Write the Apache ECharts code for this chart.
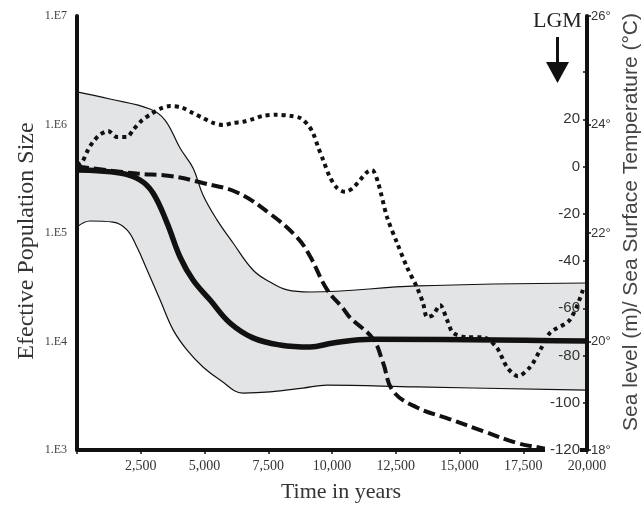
<!DOCTYPE html>
<html>
<head>
<meta charset="utf-8">
<script src="https://cdn.jsdelivr.net/npm/echarts@6/dist/echarts.min.js"></script>
<style>
  html, body { margin: 0; padding: 0; background: #fff; }
  #main { width: 644px; height: 509px; }
</style>
</head>
<body>
<div id="main"></div>
<script>
// Ne (log scale), [years, Ne]
var medianNe = [
  [0, 381000], [1690, 357000], [2470, 308000], [2980, 234000], [3530, 124000],
  [4040, 60100], [4550, 36900], [5220, 24100], [6000, 14800], [6900, 10800],
  [7960, 9290], [9140, 8890], [10040, 9680], [11570, 10500], [20000, 10100]
];
var upperNe = [
  [0, 2000000], [1290, 1718000], [2860, 1390000], [3450, 1099000], [4040, 607000],
  [4550, 397000], [4940, 224000], [5490, 132000], [6120, 80900], [6900, 45600],
  [7570, 35300], [8240, 29900], [9140, 28600], [13330, 32500], [20000, 34600]
];
var lowerNe = [
  [0, 113500], [510, 129000], [1410, 126000], [1960, 107000], [2350, 74300],
  [2750, 45600], [3260, 24100], [3770, 12800], [4310, 8360], [4940, 5820],
  [5610, 4420], [6510, 3350], [7570, 3430], [8860, 3720], [9800, 3970],
  [13330, 3810], [20000, 3570]
];
// sea level (m)
var seaLevel = [
  [0, 0], [2350, -3], [3650, -4], [4940, -7], [6280, -11], [7570, -20],
  [8630, -30], [9140, -38], [9800, -52], [10430, -60], [10710, -64], [11610, -73],
  [12000, -83], [12390, -95], [13330, -102], [14630, -107], [15920, -112],
  [17250, -117], [18160, -119], [18750, -120]
];
// sea surface temperature (°C)
var seaTemp = [
  [0, 23.25], [200, 23.31], [430, 23.53], [630, 23.68], [900, 23.81], [1220, 23.88],
  [1570, 23.77], [1960, 23.77], [2200, 23.9], [2550, 24.08], [2860, 24.18],
  [3260, 24.29], [3650, 24.34], [4120, 24.31], [4550, 24.21], [4940, 24.12],
  [5330, 24.03], [5730, 23.99], [6120, 24.03], [6510, 24.05], [6900, 24.1],
  [7290, 24.16], [7840, 24.18], [8350, 24.16], [8750, 24.12], [9060, 23.99],
  [9260, 23.84], [9450, 23.59], [9650, 23.35], [9920, 23.03], [10200, 22.83],
  [10510, 22.76], [10820, 22.83], [11370, 23.12], [11570, 23.16], [11800, 22.94],
  [12160, 22.29], [12550, 21.82], [12940, 21.37], [13330, 21.0], [13570, 20.71],
  [13730, 20.45], [13960, 20.49], [14240, 20.67], [14510, 20.4], [14750, 20.16],
  [15290, 20.08], [15920, 20.08], [16470, 19.88], [16860, 19.53], [17290, 19.36],
  [17770, 19.53], [18160, 19.84], [18550, 20.16], [19330, 20.4], [19840, 20.95]
];

var serif = 'Liberation Serif';
var sans = 'Liberation Sans';
var ink = '#111';

var myChart = echarts.init(document.getElementById('main'));

var option = {
  animation: false,
  backgroundColor: '#fff',
  grid: [
    { left: 77, right: 57, top: 16, bottom: 59, outerBoundsMode: 'none' },
    { left: 77, right: 57, top: 72, bottom: 59, outerBoundsMode: 'none' }
  ],
  xAxis: [
    {
      gridIndex: 0, type: 'value', min: 0, max: 20000, interval: 2500, z: 10,
      axisLine: { onZero: false, lineStyle: { color: ink, width: 4 } },
      axisTick: { length: 4, lineStyle: { color: ink, width: 1.5 } },
      splitLine: { show: false },
      axisLabel: {
        margin: 9, fontFamily: serif, fontSize: 14, color: '#333',
        formatter: function (v) { return v === 0 ? '' : v.toLocaleString('en-US'); }
      },
      name: 'Time in years', nameLocation: 'middle', nameGap: 31, nameMoveOverlap: false,
      nameTextStyle: { fontFamily: serif, fontSize: 22, color: '#333', padding: [0, 0, 0, 18] }
    },
    { gridIndex: 1, type: 'value', min: 0, max: 20000, show: false, axisLine: { onZero: false } }
  ],
  yAxis: [
    {
      gridIndex: 0, type: 'log', logBase: 10, min: 1000, max: 10000000, position: 'left', z: 10,
      axisLine: { show: true, onZero: false, lineStyle: { color: ink, width: 4 } },
      axisTick: { show: false },
      splitLine: { show: false },
      axisLabel: {
        margin: 10, fontFamily: serif, fontSize: 12, color: '#444',
        formatter: function (v) { return '1.E' + Math.round(Math.log10(v)); }
      },
      name: 'Efective Population Size', nameLocation: 'middle', nameGap: 38, nameMoveOverlap: false,
      nameTextStyle: { fontFamily: serif, fontSize: 24, color: '#333', padding: [0, 16, 0, 0] }
    },
    {
      gridIndex: 0, type: 'value', min: 18, max: 26, interval: 2, position: 'right', z: 10,
      axisLine: { show: true, onZero: false, lineStyle: { color: ink, width: 4 } },
      axisTick: { show: true, length: 4, lineStyle: { color: ink, width: 1.5 } },
      splitLine: { show: false },
      axisLabel: {
        margin: 4, fontFamily: sans, fontSize: 13, color: '#333',
        formatter: function (v) { return v + '°'; }
      },
      name: 'Sea level (m)/ Sea Surface Temperature (°C)', nameLocation: 'middle',
      nameRotate: 90, nameGap: 34, nameMoveOverlap: false,
      nameTextStyle: { fontFamily: sans, fontSize: 21, color: '#444', padding: [0, 0, 0, 22] }
    },
    {
      gridIndex: 1, type: 'value', min: -120, max: 40, interval: 20, position: 'right', z: 11,
      axisLine: { show: false, onZero: false },
      axisTick: { show: true, inside: true, length: 4, lineStyle: { color: ink, width: 1.5 } },
      splitLine: { show: false },
      axisLabel: {
        inside: true, margin: 7, fontFamily: sans, fontSize: 15, color: '#333',
        formatter: function (v) {
          if (v === 40) return '';
          if (v === -120) return '{w|-120}';
          return '' + v;
        },
        rich: { w: { backgroundColor: '#fff', padding: [0, 0, 0, 5], fontFamily: sans, fontSize: 15, color: '#333' } }
      }
    }
  ],
  graphic: [
    { type: 'text', left: 533, top: 10, style: { text: 'LGM', fontFamily: serif, fontSize: 22, fill: '#222' } },
    { type: 'rect', shape: { x: 556, y: 37, width: 3, height: 26 }, style: { fill: '#111' } },
    { type: 'polygon', shape: { points: [[546, 62], [569, 62], [557.5, 83]] }, style: { fill: '#111' } }
  ],
  series: [
    {
      name: 'upper HPD', type: 'line', xAxisIndex: 0, yAxisIndex: 0, data: upperNe,
      smooth: 0.4, symbol: 'none', z: 1,
      lineStyle: { color: ink, width: 1.2 },
      areaStyle: { color: '#e3e4e6', opacity: 1, origin: 'start' }
    },
    {
      name: 'lower HPD', type: 'line', xAxisIndex: 0, yAxisIndex: 0, data: lowerNe,
      smooth: 0.4, symbol: 'none', z: 2,
      lineStyle: { color: ink, width: 1.2 },
      areaStyle: { color: '#fff', opacity: 1, origin: 'start' }
    },
    {
      name: 'median Ne', type: 'line', xAxisIndex: 0, yAxisIndex: 0, data: medianNe,
      smooth: 0.4, symbol: 'none', z: 4,
      lineStyle: { color: ink, width: 5.5 }
    },
    {
      name: 'sea level', type: 'line', xAxisIndex: 1, yAxisIndex: 2, data: seaLevel,
      smooth: 0.4, symbol: 'none', z: 5,
      lineStyle: { color: ink, width: 4, type: [12, 5] }
    },
    {
      name: 'SST', type: 'line', xAxisIndex: 0, yAxisIndex: 1, data: seaTemp,
      smooth: 0.3, symbol: 'none', z: 5,
      lineStyle: { color: ink, width: 4, type: [4, 4] }
    }
  ]
};

myChart.setOption(option);
</script>
</body>
</html>
